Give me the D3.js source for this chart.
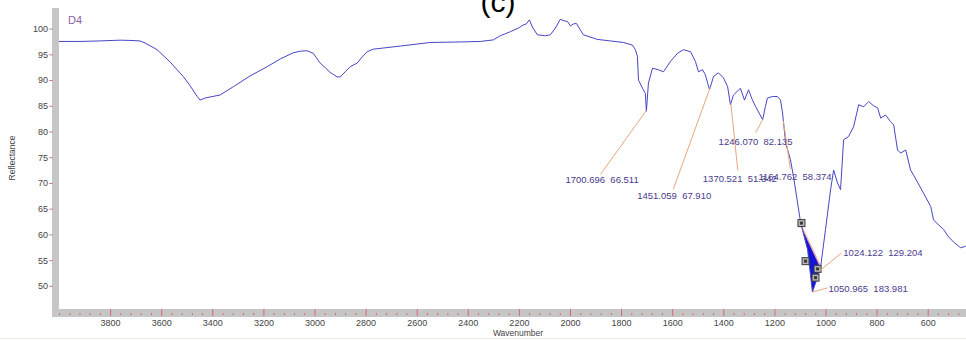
<!DOCTYPE html>
<html>
<head>
<meta charset="utf-8">
<script src="https://cdn.jsdelivr.net/npm/d3@7"></script>
<style>
  html, body { margin: 0; padding: 0; background: #fff; }
  svg { display: block; }
  text { font-family: "Liberation Sans", Arial, sans-serif; }
</style>
</head>
<body>
<svg id="chart" width="966" height="340"></svg>
<script>
// Sample D4 reflectance spectrum (wavenumber in cm-1, reflectance in %)
const wavenumber = [
  4000, 3918, 3839, 3761, 3722, 3683, 3663, 3616, 3565, 3514, 3487, 3459, 3448, 3428, 3409, 3369,
  3318, 3252, 3185, 3134, 3083, 3056, 3029, 3005, 2978, 2958, 2939, 2911, 2899, 2880, 2860, 2833,
  2813, 2794, 2770, 2664, 2547, 2429, 2351, 2300, 2273, 2233, 2202, 2183, 2171, 2159, 2147, 2128,
  2096, 2077, 2057, 2038, 2022, 2010, 1998, 1987, 1975, 1959, 1948, 1893, 1842, 1791, 1756, 1744,
  1736, 1732, 1716, 1705, 1701, 1693, 1677, 1654, 1634, 1607, 1579, 1556, 1528, 1509, 1497, 1481,
  1470, 1454, 1438, 1419, 1399, 1383, 1372, 1360, 1333, 1317, 1301, 1286, 1274, 1246, 1235, 1227,
  1207, 1188, 1176, 1168, 1156, 1137, 1125, 1097, 1070, 1051, 1035, 1019, 1000, 980, 968, 953,
  941, 929, 910, 890, 870, 851, 831, 812, 796, 784, 765, 745, 733, 718, 706, 686,
  667, 655, 616, 588, 577, 537, 518, 498, 471, 451
];
const reflectance = [
  97.5, 97.5, 97.6, 97.75, 97.7, 97.6, 97.2, 95.9, 93.5, 90.7, 88.9, 86.8, 86.1, 86.5, 86.7, 87.1,
  88.7, 90.8, 92.6, 94.1, 95.3, 95.6, 95.7, 95.2, 93.3, 92.4, 91.5, 90.6, 90.6, 91.6, 92.6, 93.3,
  94.5, 95.5, 96.0, 96.6, 97.3, 97.4, 97.5, 97.8, 98.6, 99.4, 100.1, 100.7, 100.9, 101.7, 100.3, 98.8,
  98.6, 98.8, 100.1, 101.8, 101.5, 101.4, 100.5, 100.9, 101.0, 99.7, 98.8, 97.9, 97.6, 97.3, 96.8, 95.9,
  94.6, 90.0, 88.4, 87.4, 83.9, 89.4, 92.3, 92.0, 91.6, 93.6, 95.2, 95.9, 95.5, 93.6, 91.6, 92.0,
  91.0, 88.1, 90.7, 91.4, 90.4, 88.7, 85.2, 87.1, 88.4, 86.1, 88.1, 86.1, 84.9, 82.3, 84.9, 86.5,
  86.8, 86.8, 86.1, 83.6, 77.8, 74.5, 71.2, 62.2, 57.0, 48.8, 51.1, 53.7, 60.9, 68.7, 72.5, 70.0,
  68.7, 78.4, 79.0, 80.9, 85.2, 84.8, 85.8, 85.0, 84.6, 82.6, 83.2, 81.9, 81.3, 76.4, 75.8, 76.4,
  72.5, 71.5, 68.0, 65.4, 62.8, 60.9, 59.5, 58.5, 57.4, 57.7
];

// Axis ticks
const xTicks = [3800, 3600, 3400, 3200, 3000, 2800, 2600, 2400, 2200, 2000, 1800, 1600, 1400, 1200, 1000, 800, 600];
const xMinorStep = 40;
const yTicks = [50, 55, 60, 65, 70, 75, 80, 85, 90, 95, 100];

// Picked peaks: position and peak value
const peakWavenumber = [1700.696, 1451.059, 1370.521, 1246.070, 1164.762, 1024.122, 1050.965];
const peakValue = [66.511, 67.910, 51.342, 82.135, 58.374, 129.204, 183.981];

// Integrated band limits and its baseline handles
const bandLimits = [1094, 1019];
const handleWavenumber = [1094, 1078, 1039, 1031];
const handleReflectance = [62.2, 54.8, 51.6, 53.3];

// ---- layout ----
const W = 966, H = 340;
const plot = { left: 59, right: 966, top: 8, bottom: 309 };
// callout placement relative to the peak point: [labelDx, labelDy, leaderDx, leaderDy]
const calloutOffsets = [
  [-81, 73, -46, 64],
  [-73, 112, -37, 102],
  [-28, 78, 7, 67],
  [-44, 25, -7, 13],
  [-25, 59, 7, 48],
  [24, -15, 22, -18],
  [16, 0, 15, -4]
];

const svg = d3.select("#chart");
svg.append("rect").attr("width", W).attr("height", H).attr("fill", "#fff");

const x = d3.scaleLinear().domain([4000, 450]).range([plot.left, plot.right]);
const y = d3.scaleLinear().domain([45.5, 104]).range([plot.bottom, plot.top]);

const data = wavenumber.map((w, i) => ({ w, r: reflectance[i] }));

function reflectanceAt(w) {
  for (let i = 0; i < data.length - 1; i++) {
    const a = data[i], b = data[i + 1];
    if (w <= a.w && w >= b.w) {
      const t = (a.w - w) / (a.w - b.w);
      return a.r + t * (b.r - a.r);
    }
  }
  return data[data.length - 1].r;
}

// faint frame line under the axis title
svg.append("line").attr("x1", 0).attr("x2", W).attr("y1", 338.5).attr("y2", 338.5)
  .attr("stroke", "#ecebe4").attr("stroke-width", 1);

// gray axis bars
svg.append("rect").attr("x", 52).attr("y", plot.top).attr("width", plot.left - 52)
  .attr("height", 317 - plot.top).attr("fill", "#c6c6c6");
svg.append("rect").attr("x", 52).attr("y", plot.bottom).attr("width", W - 52)
  .attr("height", 8).attr("fill", "#c6c6c6");

// y axis
const yAxis = svg.append("g").attr("transform", `translate(53,0)`)
  .call(d3.axisLeft(y).tickValues(yTicks).tickSize(4).tickPadding(1).tickFormat(d3.format("d")));
yAxis.select(".domain").remove();
yAxis.selectAll(".tick line").attr("stroke", "#c98a8a");
yAxis.selectAll(".tick text").attr("fill", "#444").style("font-size", "9px");

// x axis: minor ticks
const minor = d3.range(4000, 449, -xMinorStep).filter(v => !xTicks.includes(v));
const xMinor = svg.append("g").attr("transform", `translate(0,315)`)
  .call(d3.axisBottom(x).tickValues(minor).tickSize(-2).tickFormat(""));
xMinor.select(".domain").remove();
xMinor.selectAll(".tick line").attr("stroke", "#d86a6a");

// x axis: major ticks + labels
const xAxis = svg.append("g").attr("transform", `translate(0,316)`)
  .call(d3.axisBottom(x).tickValues(xTicks).tickSize(-7).tickPadding(4).tickFormat(d3.format("d")));
xAxis.select(".domain").remove();
xAxis.selectAll(".tick line").attr("stroke", "#d86a6a");
xAxis.selectAll(".tick text").attr("fill", "#444").style("font-size", "9px");

// axis titles
svg.append("text").attr("x", 518).attr("y", 336).attr("text-anchor", "middle")
  .attr("fill", "#444").style("font-size", "8.5px").text("Wavenumber");
svg.append("text").attr("transform", "translate(15,158) rotate(-90)").attr("text-anchor", "middle")
  .attr("fill", "#444").style("font-size", "8.5px").text("Reflectance");

// panel tag and sample name
svg.append("text").attr("x", 498).attr("y", 12).attr("text-anchor", "middle")
  .attr("fill", "#000").style("font-size", "30px").text("(c)");
svg.append("text").attr("x", 68).attr("y", 24).attr("fill", "#8a62a8")
  .style("font-size", "11px").text("D4");

// integrated band: area between spectrum and straight baseline
const [b0, b1] = bandLimits;
const bandPts = [{ w: b0, r: reflectanceAt(b0) }]
  .concat(data.filter(d => d.w < b0 && d.w > b1))
  .concat([{ w: b1, r: reflectanceAt(b1) }]);
svg.append("path")
  .attr("d", d3.line().x(d => x(d.w)).y(d => y(d.r))(bandPts) + "Z")
  .attr("fill", "#1414d8").attr("stroke", "none");
svg.append("line")
  .attr("x1", x(b0)).attr("y1", y(reflectanceAt(b0)))
  .attr("x2", x(b1)).attr("y2", y(reflectanceAt(b1)))
  .attr("stroke", "#f0a8a8").attr("stroke-width", 1.5);

// spectrum
svg.append("path").datum(data)
  .attr("d", d3.line().x(d => x(d.w)).y(d => y(d.r)))
  .attr("fill", "none").attr("stroke", "#4646c4").attr("stroke-width", 1)
  .attr("stroke-linejoin", "round");

// baseline handles
const handles = svg.append("g");
handleWavenumber.forEach((w, i) => {
  const cx = x(w), cy = y(handleReflectance[i]);
  handles.append("rect").attr("x", cx - 3.5).attr("y", cy - 3.5).attr("width", 7).attr("height", 7)
    .attr("fill", "#b4b4b4").attr("stroke", "#3a3a3a").attr("stroke-width", 1);
  handles.append("rect").attr("x", cx - 1.5).attr("y", cy - 1.5).attr("width", 3).attr("height", 3)
    .attr("fill", "#3a3a3a");
});

// peak callouts
const callouts = svg.append("g");
peakWavenumber.forEach((w, i) => {
  const px = x(w), py = y(reflectanceAt(w));
  const [ldx, ldy, ex, ey] = calloutOffsets[i];
  callouts.append("line")
    .attr("x1", px).attr("y1", py).attr("x2", px + ex).attr("y2", py + ey)
    .attr("stroke", "#eaa67c").attr("stroke-width", 1);
  callouts.append("text")
    .attr("x", px + ldx).attr("y", py + ldy)
    .attr("fill", "#4a3c8c").style("font-size", "9.5px").style("white-space", "pre")
    .text(w.toFixed(3) + "  " + peakValue[i].toFixed(3));
});
</script>
</body>
</html>
